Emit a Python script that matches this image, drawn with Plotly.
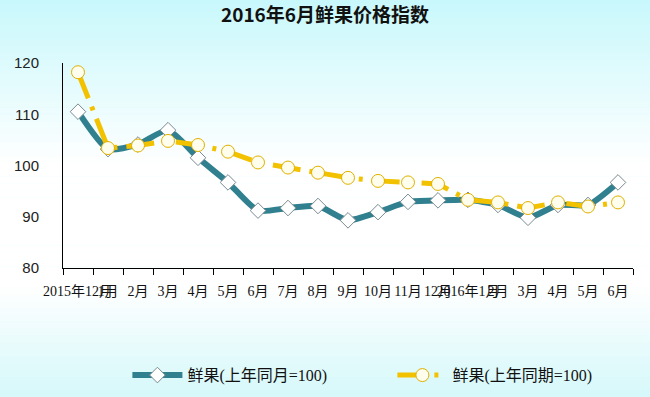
import plotly.graph_objects as go

# ---- data ----
tick_labels = ["2015年12月", "1月", "2月", "3月", "4月", "5月", "6月", "7月", "8月", "9月",
               "10月", "11月", "12月", "2016年1月", "2月", "3月", "4月", "5月", "6月"]
same_month = [110.5, 103.2, 104.1, 106.9, 101.5, 96.7, 91.2, 91.7, 92.1, 89.3,
              90.9, 92.9, 93.2, 93.3, 92.3, 89.8, 92.3, 92.3, 96.7]
same_period = [118.2, 103.4, 103.9, 104.8, 104.0, 102.7, 100.6, 99.6, 98.6, 97.6,
               97.0, 96.7, 96.4, 93.3, 92.8, 91.7, 92.8, 92.0, 92.8]
name_a = "鲜果(上年同月=100)"
name_b = "鲜果(上年同期=100)"
y_ticks = [80, 90, 100, 110, 120]

x = list(range(len(tick_labels)))

TEAL = "#31808F"
GOLD = "#F2C200"
SERIF = "Liberation Serif, Noto Sans CJK SC, serif"

fig = go.Figure()
fig.add_trace(go.Scatter(
    x=x, y=same_month, name=name_a, mode="lines+markers",
    line=dict(color=TEAL, width=6, shape="spline", smoothing=0.6),
    marker=dict(symbol="diamond", size=12, color="white", line=dict(color="#7A8A90", width=1)),
))
fig.add_trace(go.Scatter(
    x=x, y=same_period, name=name_b, mode="lines+markers",
    line=dict(color=GOLD, width=5, dash="28px,9px,4px,9px"),
    marker=dict(symbol="circle", size=13, color="#FFFDEB", line=dict(color="#E0B000", width=1)),
))

# background gradient bands (styling)
shapes = []
top = (200, 248, 252)
mid = (255, 255, 255)
bot = (208, 248, 250)
n = 60
for i in range(n):
    y0 = i / n
    y1 = (i + 1) / n
    t = (i + 0.5) / n  # 0 = bottom of page, 1 = top
    if t > 0.6:
        f = (t - 0.6) / 0.4
        c = tuple(int(mid[k] + (top[k] - mid[k]) * f) for k in range(3))
    elif t < 0.3:
        f = (0.3 - t) / 0.3
        c = tuple(int(mid[k] + (bot[k] - mid[k]) * f) for k in range(3))
    else:
        c = mid
    shapes.append(dict(type="rect", xref="paper", yref="paper", layer="below",
                       x0=-0.2, x1=1.1, y0=-0.70 + y0 * 2.02, y1=-0.70 + y1 * 2.02 + 0.002,
                       line=dict(width=0), fillcolor="rgb(%d,%d,%d)" % c))

fig.update_layout(
    width=650, height=397,
    margin=dict(l=63, r=17, t=63, b=129, autoexpand=False),
    paper_bgcolor="rgb(208,248,250)",
    plot_bgcolor="rgba(0,0,0,0)",
    shapes=shapes,
    title=dict(text="<b>2016年6月鲜果价格指数</b>", x=0.5, xanchor="center", y=0.962, yanchor="middle",
               font=dict(family="Noto Sans CJK SC, sans-serif", size=19, color="#111")),
    showlegend=True,
    legend=dict(orientation="h", xref="container", yref="container",
                x=0.196, xanchor="left", y=0.055, yanchor="middle",
                font=dict(family=SERIF, size=16, color="#111"),
                itemwidth=50, entrywidth=200, entrywidthmode="pixels",
                bgcolor="rgba(0,0,0,0)"),
    xaxis=dict(range=[-0.5, len(x) - 0.5], tickmode="array", tickvals=x, ticktext=tick_labels,
               tickangle=0, ticks="", showgrid=False, zeroline=False, automargin=False,
               showline=True, linecolor="black", linewidth=1,
               tickfont=dict(family=SERIF, size=14, color="#111"),
               minor=dict(tickmode="array", tickvals=[v - 0.5 for v in range(len(x) + 1)],
                          ticks="outside", ticklen=6, tickcolor="black", showgrid=False),
               ticklabelstandoff=10),
    yaxis=dict(range=[80, 120], tickmode="array", tickvals=y_ticks, ticks="", automargin=False,
               showgrid=False, zeroline=False, showline=True, linecolor="black", linewidth=1,
               tickfont=dict(family="Liberation Sans, Arial, sans-serif", size=15, color="#222"),
               ticklabelstandoff=20),
)

fig.write_html("out.html", config={"displayModeBar": False},
               post_script="document.body.style.margin='0';document.body.style.padding='0';")
